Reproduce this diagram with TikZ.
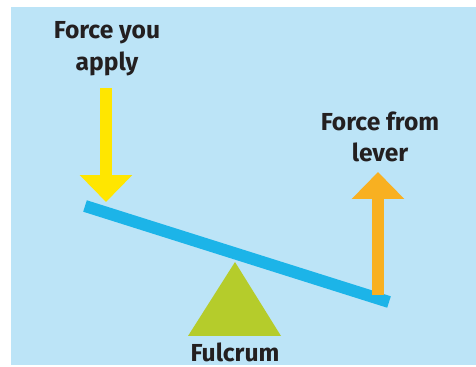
\documentclass[tikz,border=0pt]{standalone}
\usepackage{fontspec}
\setmainfont{Fira Sans}
\usetikzlibrary{arrows.meta}
\definecolor{skyback}{HTML}{BCE4F7}
\definecolor{beamblue}{HTML}{1CB4E8}
\definecolor{pushyellow}{HTML}{FFE600}
\definecolor{liftorange}{HTML}{F8B021}
\definecolor{pivotgreen}{HTML}{B5CC2B}
\definecolor{inkdark}{HTML}{231F20}
\tikzset{
  forcearrow/.style={line width=0.24cm, -{Triangle[width=1.02cm, length=0.54cm]}},
  beam/.style={line width=0.24cm, draw=beamblue},
  forcelabel/.style={font=\bfseries\fontsize{14}{18}\selectfont, text=inkdark, align=center, inner sep=0pt}
}

\begin{document}
\begin{tikzpicture}[x=0.02cm, y=-0.02cm]
  \useasboundingbox (0,0) rectangle (476,367);
  \fill[skyback] (11,7) rectangle (476,365);
  % lever and its pivot
  \coordinate (beamleft) at (85,206);
  \coordinate (beamright) at (389,302);
  \fill[pivotgreen] (235,262) -- (281,336) -- (188,336) -- cycle;
  \draw[beam] (beamleft) -- (beamright);
  % labels
  \node[forcelabel] (applylabel) at (107,49) {Force you\\apply};
  \node[forcelabel] (leverlabel) at (380,137) {Force from\\lever};
  \node[forcelabel] (fulcrumlabel) at (235,352) {Fulcrum};
  % forces
  \coordinate (pushtop) at (106,88);
  \coordinate (pushtip) at (106,202);
  \coordinate (liftfoot) at (378,295);
  \coordinate (lifttip) at (378,172);
  \draw[forcearrow, draw=pushyellow, fill=pushyellow] (pushtop) -- (pushtip);
  \draw[forcearrow, draw=liftorange, fill=liftorange] (liftfoot) -- (lifttip);
\end{tikzpicture}
\end{document}
